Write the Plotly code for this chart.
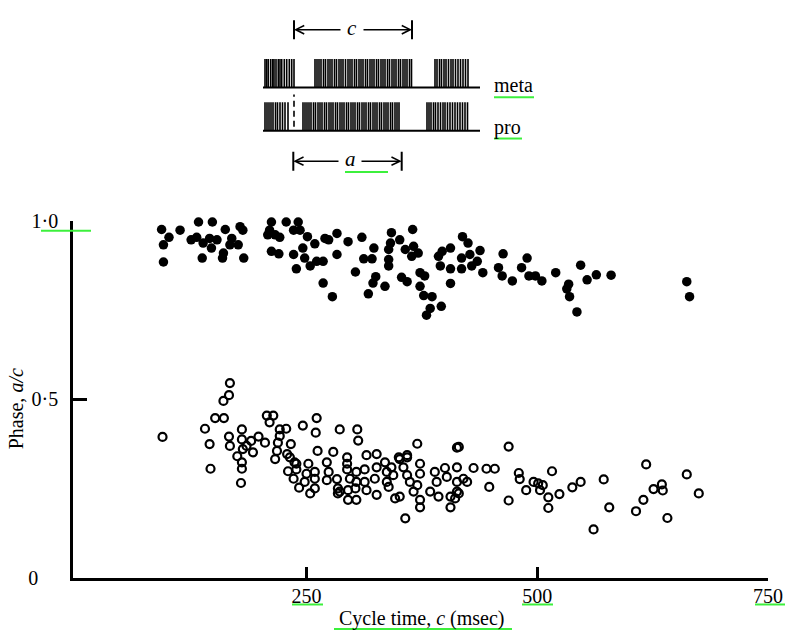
import plotly.graph_objects as go

# ---------------- data ----------------
filled_cycle = [93, 101, 95, 95, 113, 133, 148, 125, 131, 138, 145, 153, 147, 137, 162, 163, 172, 181,
                178, 169, 167, 160, 159, 176, 182, 189, 212, 210, 208, 216, 221, 212, 220, 228, 236, 241,
                243, 255, 251, 259, 246, 236, 248, 254, 261, 268, 239, 268, 278, 283, 270, 274, 283, 295,
                310, 323, 312, 321, 303, 325, 322, 335, 317, 342, 365, 351, 341, 339, 357, 366, 371, 364,
                339, 339, 353, 359, 373, 378, 373, 377, 386, 396, 384, 380, 419, 425, 406, 397, 393, 418,
                427, 438, 435, 429, 418, 395, 406, 441, 406, 463, 458, 462, 473, 489, 483, 491, 498, 505,
                520, 547, 534, 532, 535, 543, 554, 564, 580, 662, 665]
filled_phase = [0.976, 0.954, 0.933, 0.885, 0.974, 0.997, 0.997, 0.947, 0.954, 0.938, 0.951, 0.947, 0.924,
                0.896, 0.976, 1.026, 1.006, 0.974, 0.984, 0.951, 0.933, 0.910, 0.896, 0.933, 0.896, 1.005,
                0.997, 0.974, 0.961, 0.961, 0.954, 0.915, 0.908, 0.997, 0.974, 0.997, 0.974, 1.006, 0.956,
                0.936, 0.924, 0.906, 0.896, 0.874, 0.887, 0.887, 0.866, 0.826, 0.788, 0.965, 0.951, 0.947,
                0.906, 0.942, 0.954, 0.924, 0.894, 0.894, 0.857, 0.844, 0.826, 0.817, 0.796, 0.967, 0.976,
                0.947, 0.938, 0.920, 0.920, 0.929, 0.910, 0.901, 0.892, 0.874, 0.842, 0.830, 0.855, 0.846,
                0.817, 0.791, 0.788, 0.761, 0.755, 0.736, 0.956, 0.938, 0.924, 0.915, 0.901, 0.896, 0.906,
                0.917, 0.887, 0.874, 0.866, 0.874, 0.866, 0.855, 0.825, 0.908, 0.869, 0.846, 0.832, 0.896,
                0.869, 0.846, 0.846, 0.832, 0.855, 0.876, 0.823, 0.810, 0.788, 0.745, 0.835, 0.849, 0.848,
                0.830, 0.788]

open_cycle = [94, 167, 166, 160, 151, 160.5, 140, 145, 146, 180, 166, 167, 180, 181, 175, 180, 180, 179,
              190, 198, 192, 185, 207, 214, 210, 205, 221, 228, 221, 219, 218, 216, 233, 246, 232, 239,
              230, 236, 242, 252, 250, 248, 254, 261, 260, 262, 259, 279, 286, 284, 284, 272, 229, 237,
              239, 259, 259, 272, 274, 283, 294, 294, 294, 297, 295, 295, 304, 305, 306, 304, 304, 303,
              315, 326, 313, 313, 315, 326, 324, 326, 335, 337, 337, 339, 342, 344, 351, 359, 355, 359,
              351, 357, 346, 362, 370, 366, 370, 373, 373, 373, 373, 384, 391, 389, 400, 402, 393, 406,
              406, 413, 413, 413, 413, 415, 431, 445, 454, 448, 424, 420, 411, 415, 359, 350, 286, 469,
              469, 480, 481, 488, 496, 501, 506, 503, 512, 512, 516, 524, 538, 547, 561, 572, 578, 607,
              615, 618, 626, 635, 636, 641, 662, 675]
open_phase = [0.395, 0.546, 0.512, 0.496, 0.448, 0.448, 0.418, 0.375, 0.306, 0.416, 0.396, 0.370, 0.388,
              0.361, 0.341, 0.324, 0.306, 0.266, 0.384, 0.396, 0.352, 0.370, 0.455, 0.455, 0.436, 0.379,
              0.416, 0.418, 0.398, 0.379, 0.356, 0.333, 0.375, 0.427, 0.338, 0.320, 0.299, 0.278, 0.253,
              0.320, 0.292, 0.269, 0.237, 0.448, 0.407, 0.356, 0.251, 0.353, 0.416, 0.251, 0.237, 0.274,
              0.347, 0.324, 0.304, 0.278, 0.297, 0.324, 0.297, 0.277, 0.338, 0.320, 0.304, 0.278, 0.246,
              0.219, 0.219, 0.416, 0.385, 0.297, 0.269, 0.251, 0.344, 0.347, 0.304, 0.269, 0.246, 0.310,
              0.278, 0.233, 0.324, 0.297, 0.269, 0.255, 0.310, 0.288, 0.333, 0.338, 0.310, 0.288, 0.228,
              0.167, 0.223, 0.269, 0.260, 0.242, 0.376, 0.320, 0.292, 0.219, 0.198, 0.242, 0.269, 0.297,
              0.308, 0.283, 0.228, 0.228, 0.198, 0.365, 0.310, 0.269, 0.242, 0.367, 0.308, 0.306, 0.306,
              0.255, 0.269, 0.278, 0.223, 0.237, 0.344, 0.338, 0.242, 0.368, 0.217, 0.294, 0.277, 0.246,
              0.269, 0.265, 0.260, 0.246, 0.226, 0.196, 0.299, 0.235, 0.254, 0.269, 0.136, 0.276, 0.198,
              0.187, 0.219, 0.318, 0.249, 0.262, 0.245, 0.168, 0.290, 0.237]

x_tick_vals = [250, 500, 750]
x_tick_text = ["250", "500", "750"]
y_tick_vals = [0, 0.5, 1.0]
y_tick_text = ["0\u00a0\u00a0\u00a0\u00a0", "0\u00b75", "1\u00b70"]

# schematic spike trains of the inset (time in arbitrary units)
meta_spikes = [2, 3.7, 5.3, 7.7, 9.7, 11, 13, 15.3, 17, 18.7, 21.3, 23.7, 26.3, 28.7, 31,
               52, 54, 56, 58, 60.5, 62.5, 65, 67, 69, 71.5, 73.5, 76, 78, 80, 82.5, 85, 87, 89, 91.5,
               93.5, 96, 98, 100, 102.5, 104.5, 107, 109, 111, 113.5, 115.5, 118, 120, 122, 124.5,
               126.5, 129, 131, 133, 135.5, 137.5, 140, 142, 144, 146.5, 148.5,
               172, 174, 176.5, 178.5, 181, 183, 185.5, 188, 190, 192.5, 195, 197.5, 200, 202.5, 205]
pro_spikes = [2, 4, 6, 8, 10, 12.5, 14.5, 17, 19.5, 22, 25,
              40, 42, 44, 46, 48, 50.5, 52.5, 55, 57, 59, 61.5, 63.5, 66, 68, 70, 72.5, 74.5, 77, 79,
              81, 83.5, 85.5, 88, 90, 92, 94.5, 96.5, 99, 101, 103, 105.5, 107.5, 110, 112, 114, 116.5,
              118.5, 121, 123, 125, 127.5, 129.5, 132, 134, 136,
              164, 166, 168, 170.5, 172.5, 175, 177.5, 180, 182, 184.5, 187, 189.5, 192, 194.5, 197,
              199.5, 202, 204.5]
pro_marker_time = 31
trace_end = 217
cycle_start, cycle_end = 31, 149      # "c" interval
active_start, active_end = 30.3, 138.7  # "a" interval

FONT = "Liberation Serif"
GREEN = "#3cf03c"
FS = 20

fig = go.Figure()

fig.add_trace(go.Scatter(x=filled_cycle, y=filled_phase, mode="markers",
                         marker=dict(symbol="circle", size=9.5, color="black"),
                         cliponaxis=False, showlegend=False))
fig.add_trace(go.Scatter(x=open_cycle, y=open_phase, mode="markers",
                         marker=dict(symbol="circle-open", size=8, color="black", line=dict(width=2.2)),
                         cliponaxis=False, showlegend=False))

# inset spike trains
SPIKE_H = 0.66
def spikes(times, base):
    xs, ys = [], []
    for t in times:
        xs += [t, t, None]
        ys += [base, base + SPIKE_H, None]
    return xs, ys

for times, base in [(meta_spikes, 1.0), (pro_spikes, 0.0)]:
    xs, ys = spikes(times, base)
    fig.add_trace(go.Scatter(x=xs, y=ys, mode="lines", line=dict(color="black", width=1.6),
                             xaxis="x2", yaxis="y2", showlegend=False, hoverinfo="skip"))
    fig.add_trace(go.Scatter(x=[0, trace_end], y=[base, base], mode="lines",
                             line=dict(color="black", width=2), xaxis="x2", yaxis="y2",
                             showlegend=False, hoverinfo="skip"))
fig.add_trace(go.Scatter(x=[pro_marker_time, pro_marker_time], y=[0.09, 0.84], mode="lines",
                         line=dict(color="black", width=1.6, dash="6px,4px"), xaxis="x2", yaxis="y2",
                         showlegend=False, hoverinfo="skip"))

shapes = []
annotations = []

def bracket(t0, t1, y, label, lx, gap):
    for t in (t0, t1):
        shapes.append(dict(type="line", xref="x2", yref="y2", x0=t, x1=t, y0=y - 0.22, y1=y + 0.22,
                           line=dict(color="black", width=2)))
    annotations.append(dict(xref="x2", yref="y2", x=t0, y=y, ax=lx - gap, ay=y, axref="x2", ayref="y2",
                            text="", showarrow=True, arrowhead=5, arrowsize=1.1, arrowwidth=1.5,
                            arrowcolor="black"))
    annotations.append(dict(xref="x2", yref="y2", x=t1, y=y, ax=lx + gap, ay=y, axref="x2", ayref="y2",
                            text="", showarrow=True, arrowhead=5, arrowsize=1.1, arrowwidth=1.5,
                            arrowcolor="black"))
    annotations.append(dict(xref="x2", yref="y2", x=lx, y=y, text="<i>%s</i>" % label, showarrow=False,
                            xanchor="center", yanchor="middle",
                            font=dict(family=FONT, size=FS + 1, color="black"), yshift=2))

bracket(cycle_start, cycle_end, 2.34, "c", 89, 10)
bracket(active_start, active_end, -0.705, "a", 87, 10)

annotations.append(dict(xref="x2", yref="y2", x=229, y=1.05, text="meta", showarrow=False,
                        xanchor="left", yanchor="middle", font=dict(family=FONT, size=FS, color="black")))
annotations.append(dict(xref="x2", yref="y2", x=229, y=0.07, text="pro", showarrow=False,
                        xanchor="left", yanchor="middle", font=dict(family=FONT, size=FS, color="black")))

# axis titles
annotations.append(dict(xref="paper", yref="paper", x=(16 - 73) / 695, y=(578 - 405) / 578,
                        xanchor="center", yanchor="middle",
                        text="Phase, <i>a/c</i>", textangle=-90, showarrow=False,
                        font=dict(family=FONT, size=FS, color="black")))
annotations.append(dict(xref="paper", yref="paper", x=(422 - 73) / 695, y=(578 - 619) / 578,
                        xanchor="center", yanchor="middle",
                        text="Cycle time, <i>c</i> (msec)", showarrow=False,
                        font=dict(family=FONT, size=FS, color="black")))

# green underline marks present in the scan
def px_line(x0, x1, y):
    shapes.append(dict(type="line", xref="paper", yref="paper",
                       x0=(x0 - 73) / 695, x1=(x1 - 73) / 695, y0=(578 - y) / 578, y1=(578 - y) / 578,
                       line=dict(color=GREEN, width=2)))

for x0, x1, y in [(41, 91, 224), (292, 323, 605), (522, 553, 605), (755, 785, 605),
                  (334, 512, 630), (494, 534, 88), (494, 522, 130), (345, 388, 164)]:
    px_line(x0, x1, y)

fig.update_layout(
    width=785, height=633,
    margin=dict(l=73, r=17, t=0, b=55),
    paper_bgcolor="white", plot_bgcolor="white",
    font=dict(family=FONT, size=FS, color="black"),
    xaxis=dict(range=[-3, 750], domain=[0, 1], anchor="y", showline=True, linecolor="black",
               linewidth=2.5, ticks="inside", ticklen=11, tickwidth=2.5, tickcolor="black",
               tickvals=x_tick_vals, ticktext=x_tick_text, showgrid=False, zeroline=False,
               ticklabelstandoff=-2, tickfont=dict(family=FONT, size=FS)),
    yaxis=dict(range=[0, 1.0], domain=[0, 364 / 578], anchor="x", showline=True, linecolor="black",
               linewidth=2.5, ticks="inside", ticklen=14, tickwidth=2.5, tickcolor="black",
               tickvals=y_tick_vals, ticktext=y_tick_text, showgrid=False, zeroline=False,
               ticklabelstandoff=8, tickfont=dict(family=FONT, size=FS)),
    xaxis2=dict(range=[-8, 297], domain=[(255 - 73) / 695, (560 - 73) / 695], anchor="y2", visible=False),
    yaxis2=dict(range=[-1.09, 2.773], domain=[(578 - 170) / 578, 1.0], anchor="x2", visible=False),
    shapes=shapes, annotations=annotations, showlegend=False,
)

fig.write_html("out.html", config={"displayModeBar": False},
               post_script="document.body.style.margin='0';document.body.style.padding='0';")
